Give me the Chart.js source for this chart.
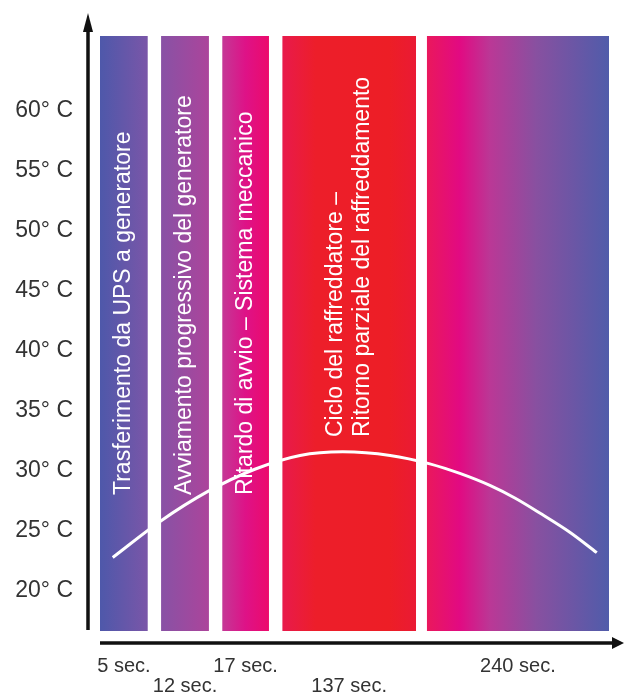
<!DOCTYPE html>
<html>
<head>
<meta charset="utf-8">
<script src="https://cdn.jsdelivr.net/npm/chart.js@4.4.0/dist/chart.umd.min.js"></script>
<style>
  body { margin: 0; background: #fff; }
  #wrap { width: 626px; height: 698px; }
</style>
</head>
<body>
<div id="wrap"><canvas id="chart"></canvas></div>
<script>
// temperature ticks (°C)
const tempTicks = [20, 25, 30, 35, 40, 45, 50, 55, 60];

// phases along the timeline (x in relative units, 0-100 across the diagram)
const phaseStart = [0, 12.0, 24.0, 35.8, 64.2];
const phaseEnd = [9.4, 21.4, 33.2, 62.1, 100];
const phaseTimes = ["5 sec.", "12 sec.", "17 sec.", "137 sec.", "240 sec."];
const phaseNames = [
  ["Trasferimento da UPS a generatore"],
  ["Avviamento progressivo del generatore"],
  ["Ritardo di avvio \u2013 Sistema meccanico"],
  ["Ciclo del raffreddatore \u2013", "Ritorno parziale del raffreddamento"],
  []
];

// room temperature curve
const curveX = [2.5, 11.8, 21.2, 30.4, 39.3, 47.7, 57.0, 64.8, 70.7, 76.6, 81.5, 86.4, 92.3, 97.6];
const curveTemp = [22.8, 25.8, 28.3, 30.15, 31.3, 31.6, 31.3, 30.6, 29.8, 28.8, 27.75, 26.5, 24.9, 23.2];

const yMin = 16.67;
const yMax = 66.25;

// gradient stops for each phase band
const bandStops = [
  [[0, "rgb(78,88,170)"], [1, "rgb(122,86,168)"]],
  [[0, "rgb(136,82,165)"], [1, "rgb(172,68,155)"]],
  [[0, "rgb(196,56,150)"], [0.5, "rgb(222,18,135)"], [1, "rgb(236,10,108)"]],
  [[0, "rgb(232,26,76)"], [0.25, "rgb(237,30,42)"], [0.8, "rgb(237,30,38)"], [1, "rgb(234,26,52)"]],
  [[0, "rgb(234,24,92)"], [0.18, "rgb(226,10,130)"], [0.35, "rgb(186,56,150)"], [0.6, "rgb(136,80,160)"], [1, "rgb(80,92,170)"]]
];

function bandFill(i) {
  return function (c) {
    const chart = c.chart;
    if (!chart.chartArea) return "transparent";
    const xs = chart.scales.x;
    const x0 = xs.getPixelForValue(phaseStart[i]);
    const x1 = xs.getPixelForValue(phaseEnd[i]);
    const g = chart.ctx.createLinearGradient(x0, 0, x1, 0);
    bandStops[i].forEach(s => g.addColorStop(s[0], s[1]));
    return g;
  };
}

const bandSets = phaseStart.map((s, i) => ({
  type: "line",
  data: [{ x: s, y: yMax }, { x: phaseEnd[i], y: yMax }],
  fill: "start",
  borderWidth: 0,
  pointRadius: 0,
  backgroundColor: bandFill(i),
  order: 2
}));

// axes with arrows + rotated captions in the bands
const diagramDecor = {
  id: "diagramDecor",
  afterDatasetsDraw(chart) {
    const ctx = chart.ctx;
    const a = chart.chartArea;
    const xs = chart.scales.x;
    ctx.save();

    ctx.fillStyle = "#fff";
    ctx.font = '23px "Liberation Sans", Arial, sans-serif';
    ctx.textAlign = "left";
    ctx.textBaseline = "middle";
    phaseNames.forEach((lines, i) => {
      const cx = (xs.getPixelForValue(phaseStart[i]) + xs.getPixelForValue(phaseEnd[i])) / 2;
      const startY = lines.length > 1 ? a.bottom - 194 : a.bottom - 136;
      lines.forEach((t, j) => {
        const lx = cx + (j - (lines.length - 1) / 2) * 27;
        ctx.save();
        ctx.translate(lx, startY);
        ctx.rotate(-Math.PI / 2);
        ctx.fillText(t, 0, 0);
        ctx.restore();
      });
    });

    ctx.strokeStyle = "#111";
    ctx.fillStyle = "#111";
    ctx.lineWidth = 3.5;

    // y axis
    const ax = a.left - 12;
    ctx.beginPath();
    ctx.moveTo(ax, a.bottom - 1);
    ctx.lineTo(ax, a.top - 12);
    ctx.stroke();
    ctx.beginPath();
    ctx.moveTo(ax, a.top - 23);
    ctx.lineTo(ax - 5, a.top - 4);
    ctx.lineTo(ax + 5, a.top - 4);
    ctx.closePath();
    ctx.fill();

    // x axis
    const ay = a.bottom + 12;
    ctx.beginPath();
    ctx.moveTo(a.left, ay);
    ctx.lineTo(a.right + 6, ay);
    ctx.stroke();
    ctx.beginPath();
    ctx.moveTo(a.right + 15, ay);
    ctx.lineTo(a.right + 3, ay - 6);
    ctx.lineTo(a.right + 3, ay + 6);
    ctx.closePath();
    ctx.fill();

    ctx.restore();
  }
};

new Chart(document.getElementById("chart"), {
  type: "line",
  data: {
    datasets: [
      {
        data: curveX.map((x, i) => ({ x: x, y: curveTemp[i] })),
        borderColor: "#fff",
        borderWidth: 3,
        pointRadius: 0,
        cubicInterpolationMode: "monotone",
        fill: false,
        order: 0
      },
      ...bandSets
    ]
  },
  options: {
    responsive: true,
    maintainAspectRatio: false,
    animation: false,
    layout: { padding: { top: 36, right: 17, left: 0, bottom: 0 } },
    plugins: {
      legend: { display: false },
      tooltip: { enabled: false }
    },
    scales: {
      x: {
        type: "linear",
        min: 0,
        max: 100,
        grid: { display: false, drawTicks: false },
        border: { display: false },
        afterFit: s => { s.height = 67; s.paddingLeft = 0; s.paddingRight = 0; },
        afterBuildTicks: s => {
          s.ticks = phaseStart.map((v, i) => ({ value: (v + phaseEnd[i]) / 2 }));
        },
        ticks: {
          autoSkip: false,
          maxRotation: 0,
          padding: 25,
          color: "#333",
          font: { family: '"Liberation Sans", Arial, sans-serif', size: 20, lineHeight: 1 },
          callback: (v, i) => (i % 2 ? ["", phaseTimes[i]] : phaseTimes[i])
        }
      },
      y: {
        min: yMin,
        max: yMax,
        grid: { display: false, drawTicks: false },
        border: { display: false },
        afterFit: s => { s.width = 100; s.paddingTop = 0; s.paddingBottom = 0; },
        afterBuildTicks: s => {
          s.ticks = tempTicks.map(v => ({ value: v }));
        },
        ticks: {
          padding: 27,
          color: "#333",
          font: { family: '"Liberation Sans", Arial, sans-serif', size: 23 },
          callback: v => v + "\u00b0 C"
        }
      }
    }
  },
  plugins: [diagramDecor]
});
</script>
</body>
</html>
